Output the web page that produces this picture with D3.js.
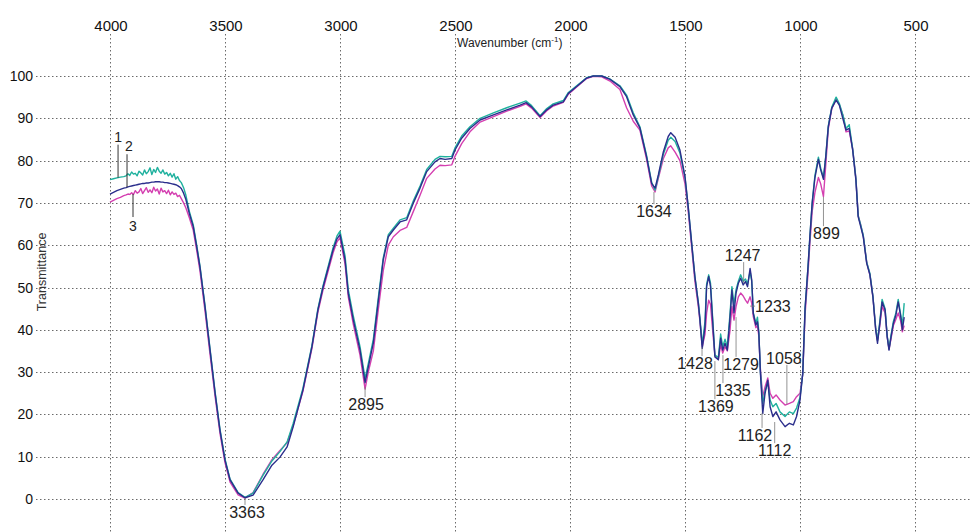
<!DOCTYPE html>
<html>
<head>
<meta charset="utf-8">
<script src="https://cdn.jsdelivr.net/npm/d3@7/dist/d3.min.js"></script>
<style>
body { margin: 0; background: #fff; }
svg { display: block; font-family: Arial, "Liberation Sans", sans-serif; }
</style>
</head>
<body>
<svg id="plot"></svg>
<script>
var width = 971;
var height = 532;

// FTIR spectra, transmittance (%) vs wavenumber (cm-1)
var wavenumbers = [4000, 3985, 3970, 3955, 3940, 3930, 3922, 3914, 3906, 3898, 3890, 3882, 3874, 3866, 3858, 3850, 3842, 3834, 3826, 3818,
    3810, 3802, 3794, 3786, 3778, 3770, 3762, 3754, 3746, 3738, 3730, 3722, 3714, 3706, 3698, 3690, 3680, 3670, 3655,
    3638, 3623, 3609, 3587, 3565, 3543, 3522, 3500, 3478, 3443, 3413, 3378, 3335, 3296, 3261, 3230, 3204, 3161, 3122, 3096, 3074, 3030, 3013, 3000,
    2978, 2964, 2942, 2913, 2891, 2877, 2855, 2833, 2812, 2790, 2768, 2739, 2710, 2681, 2652, 2623, 2587, 2565, 2543, 2514, 2500, 2471, 2435, 2391,
    2333, 2275, 2217, 2191, 2167, 2130, 2101, 2073, 2029, 2007, 1971, 1928, 1899, 1862, 1826, 1783, 1754, 1725, 1696, 1667, 1645, 1630, 1616, 1594,
    1573, 1562, 1543, 1522, 1500, 1486, 1471, 1457, 1442, 1435, 1425, 1413, 1406, 1397, 1389, 1380, 1370, 1355, 1345, 1336, 1326, 1316, 1304, 1296,
    1287, 1278, 1268, 1258, 1247, 1237, 1228, 1217, 1210, 1203, 1192, 1185, 1179, 1172, 1162, 1152, 1140, 1130, 1118, 1104, 1087, 1065, 1046, 1029,
    1015, 1000, 988, 978, 965, 957, 947, 935, 920, 910, 898, 888, 877, 862, 843, 829, 812, 800, 786, 771, 757, 747, 736, 725, 710, 696, 683, 671,
    663, 653, 643, 630, 621, 613, 604, 594, 583, 573, 562, 555, 547];

var series1 = [75.5, 75.7, 75.9, 76.1, 76.2, 76.4, 76.9, 76.5, 77.3, 76.8, 77.0, 76.4, 77.5, 77.1, 76.6, 77.8, 76.9, 77.4, 78.3, 76.7,
    77.9, 77.2, 78.4, 77.5, 77.0, 77.8, 76.8, 77.2, 76.4, 77.0, 76.1, 76.9, 75.6, 76.2, 75.3, 74.8, 73.6, 71.8, 68.0,
    64.8, 60.0, 55.2, 45.8, 35.5, 25.3, 16.6, 9.5, 4.7, 1.5, 0.4, 1.4, 5.6, 9.0, 11.2, 13.5, 17.8, 26.2, 36.3, 45.0, 50.4, 59.4, 62.2, 63.3,
    57.5, 49.5, 43.2, 36.0, 28.5, 32.0, 37.8, 47.8, 57.0, 62.5, 64.0, 66.0, 66.5, 70.5, 74.0, 77.9, 80.3, 81.0, 80.9, 81.0, 83.0, 85.8, 88.0, 90.0,
    91.3, 92.5, 93.6, 94.1, 93.0, 90.6, 92.3, 93.4, 94.2, 96.1, 97.7, 99.6, 100, 100, 99.3, 97.7, 95.5, 91.3, 88.0, 81.2, 74.9, 73.0, 76.2, 81.5,
    84.8, 85.5, 84.5, 81.8, 76.0, 69.0, 60.5, 52.6, 46.5, 42.8, 36.5, 42.0, 50.8, 53.0, 51.0, 43.0, 34.0, 33.5, 39.0, 36.0, 37.8, 36.0, 44.0, 50.2,
    46.0, 49.5, 51.5, 53.0, 51.5, 52.0, 50.8, 53.8, 51.5, 44.0, 41.5, 43.0, 39.5, 30.0, 22.6, 25.5, 27.5, 23.4, 21.8, 22.6, 20.6, 19.5, 20.6, 20.2,
    21.5, 24.0, 29.7, 45.0, 55.0, 62.0, 70.0, 76.5, 80.8, 78.2, 76.0, 81.0, 88.2, 92.6, 95.0, 93.5, 90.5, 87.6, 88.5, 82.8, 75.8, 67.0, 64.8, 62.4, 56.0, 53.3, 48.0, 40.5,
    37.5, 42.0, 47.2, 45.0, 38.6, 35.5, 38.8, 42.0, 44.0, 47.2, 43.5, 41.0, 46.3];

var series2 = [72.1, 72.5, 72.9, 73.2, 73.5, 73.6, 73.8, 73.9, 74.0, 74.1, 74.2, 74.3, 74.4, 74.5, 74.6, 74.6, 74.7, 74.7, 74.8, 74.9,
    74.9, 75.0, 75.0, 75.0, 74.9, 74.9, 74.8, 74.8, 74.7, 74.6, 74.5, 74.4, 74.3, 74.1, 73.8, 73.4, 72.3, 70.8, 67.5,
    64.4, 59.6, 54.9, 45.5, 35.2, 25.0, 16.3, 9.2, 4.5, 1.4, 0.3, 0.9, 4.5, 8.0, 9.9, 12.3, 17.0, 25.8, 36.0, 44.7, 50.0, 58.9, 61.5, 62.5,
    56.5, 48.6, 42.3, 35.2, 27.5, 31.2, 36.9, 47.0, 56.5, 62.0, 63.6, 65.5, 66.0, 70.0, 73.5, 77.4, 79.7, 80.5, 80.3, 80.5, 82.5, 85.3, 87.6, 89.6,
    90.8, 92.0, 93.1, 93.7, 92.7, 90.4, 92.0, 93.1, 93.9, 95.9, 97.5, 99.5, 100, 100, 99.2, 97.5, 95.1, 90.8, 87.7, 80.9, 74.6, 73.5, 76.6, 82.1,
    85.7, 86.6, 85.5, 82.5, 76.2, 69.1, 60.5, 52.6, 46.3, 42.3, 35.6, 40.7, 50.2, 52.6, 50.2, 42.3, 33.6, 32.9, 38.0, 35.2, 36.8, 35.2, 43.1, 49.4,
    44.0, 48.7, 51.0, 52.2, 50.6, 51.4, 50.2, 54.5, 51.8, 43.9, 41.1, 41.9, 39.2, 29.7, 20.2, 25.0, 28.1, 21.8, 19.5, 20.6, 18.7, 17.1, 17.9, 17.5,
    19.5, 23.4, 29.7, 45.0, 55.0, 62.0, 70.0, 76.0, 80.3, 77.8, 75.6, 80.9, 88.0, 92.4, 94.3, 93.1, 89.6, 87.2, 87.6, 82.5, 75.4, 66.7, 64.4, 62.0, 55.7, 53.0, 47.8, 40.0,
    36.8, 41.5, 46.6, 44.7, 38.4, 35.2, 38.4, 41.5, 43.5, 46.6, 43.1, 40.0, 43.0];

var series3 = [70.2, 70.6, 71.0, 71.3, 71.7, 71.9, 72.1, 72.0, 72.4, 72.0, 72.9, 72.3, 72.6, 73.4, 72.2, 72.9, 73.6, 72.5, 73.1, 72.4,
    73.7, 72.8, 73.3, 72.1, 73.5, 72.6, 72.9, 72.2, 73.0, 71.9, 72.6, 72.0, 72.3, 71.5, 71.8, 71.0, 70.0, 68.8, 66.5,
    63.5, 58.8, 54.0, 44.5, 34.2, 24.2, 15.6, 8.6, 4.0, 1.0, 0.2, 1.5, 5.8, 9.3, 11.5, 13.3, 17.3, 25.5, 35.6, 44.2, 49.4, 58.2, 60.8, 61.8,
    55.5, 47.8, 41.3, 34.0, 26.0, 30.0, 35.0, 45.0, 54.0, 60.0, 62.0, 63.5, 64.2, 68.0, 71.8, 75.8, 78.0, 78.9, 78.8, 79.0, 81.0, 84.0, 86.8, 89.1,
    90.4, 91.7, 92.8, 93.4, 92.4, 90.2, 91.8, 92.9, 93.8, 95.7, 97.4, 99.4, 99.9, 99.8, 98.8, 96.8, 92.5, 89.3, 87.2, 80.3, 74.0, 72.6, 75.8, 80.5,
    83.0, 83.5, 82.0, 80.0, 74.5, 68.0, 59.5, 51.5, 45.5, 42.0, 36.0, 39.0, 44.0, 47.0, 46.0, 40.0, 34.0, 33.0, 36.5, 34.5, 36.0, 35.0, 40.0, 45.5,
    42.3, 45.5, 47.8, 48.7, 48.0, 47.0, 46.3, 47.8, 46.3, 43.1, 40.5, 41.0, 38.5, 30.5, 24.2, 26.5, 28.6, 25.0, 23.8, 24.6, 23.4, 22.2, 22.6, 23.0,
    24.2, 25.0, 29.5, 43.5, 53.5, 60.5, 68.0, 72.5, 76.0, 74.5, 71.5, 79.0, 87.5, 92.2, 94.6, 93.2, 90.5, 86.8, 87.0, 82.8, 75.8, 67.0, 64.8, 62.2, 56.0, 53.0, 47.8, 40.3,
    37.5, 41.0, 45.5, 44.0, 38.4, 35.4, 38.0, 41.0, 42.5, 44.0, 42.0, 39.5, 41.0];

var seriesNames = ["1", "2", "3"];
var seriesTagWn = [3965, 3926, 3900];

var xTicks = [4000, 3500, 3000, 2500, 2000, 1500, 1000, 500];
var yTicks = [0, 10, 20, 30, 40, 50, 60, 70, 80, 90, 100];

var peakLabels = ["3363", "2895", "1634", "1428", "1369", "1335", "1279", "1247", "1233", "1162", "1112", "1058", "899"];
var peakWn     = [3413, 2891, 1635, 1426, 1370, 1335, 1278, 1245, 1217, 1165, 1110, 1057, 898];
var peakFrom   = [0.2, 26.5, 72.6, 35.9, 32.6, 34.0, 43.0, 51.0, 45.6, 20.4, 18.2, 22.4, 71.4];
var peakTo     = [-1.4, 24.1, 69.7, 33.8, 23.6, 27.4, 33.6, 56.0, 45.6, 16.8, 13.2, 31.7, 64.5];

// label layout
var peakPlace = ["below", "below", "below", "below", "below", "below", "below", "above", "right", "below", "below", "above", "below"];
var peakDx = [2, 1, 0, -7, 1, 10, 5, -1, 0, -7, 0, -3, 3];
var colors = ["#1fb19e", "#2b2e8c", "#d43fb0"];

var svg = d3.select("#plot")
    .attr("width", width)
    .attr("height", height);

var xScale = d3.scaleLinear()
    .domain([4000, 500])
    .range([110, 915]);
var yScale = d3.scaleLinear()
    .domain([0, 100])
    .range([499, 76]);

// grid
svg.append("g")
    .attr("class", "grid-x")
    .selectAll("line")
    .data(xTicks)
    .enter()
    .append("line")
    .attr("x1", function (d) { return xScale(d) + 0.5; })
    .attr("x2", function (d) { return xScale(d) + 0.5; })
    .attr("y1", 34)
    .attr("y2", height)
    .attr("stroke", "#6a6a6a")
    .attr("stroke-dasharray", "1.5,2.5");

svg.append("g")
    .attr("class", "grid-y")
    .selectAll("line")
    .data(yTicks)
    .enter()
    .append("line")
    .attr("x1", 36)
    .attr("x2", width)
    .attr("y1", function (d) { return Math.round(yScale(d)) + 0.5; })
    .attr("y2", function (d) { return Math.round(yScale(d)) + 0.5; })
    .attr("stroke", "#6a6a6a")
    .attr("stroke-dasharray", "1.5,2.5");

// tick labels
svg.append("g")
    .selectAll("text")
    .data(xTicks)
    .enter()
    .append("text")
    .attr("x", function (d) { return xScale(d) + 1; })
    .attr("y", 31)
    .attr("text-anchor", "middle")
    .attr("font-size", 15)
    .attr("fill", "#111")
    .text(function (d) { return d; });

svg.append("g")
    .selectAll("text")
    .data(yTicks)
    .enter()
    .append("text")
    .attr("x", 33)
    .attr("y", function (d) { return yScale(d) + 5; })
    .attr("text-anchor", "end")
    .attr("font-size", 14)
    .attr("fill", "#111")
    .text(function (d) { return d; });

// axis titles
var xTitle = svg.append("text")
    .attr("x", 457)
    .attr("y", 47)
    .attr("font-size", 12)
    .attr("fill", "#222");
xTitle.append("tspan").text("Wavenumber (cm");
xTitle.append("tspan").attr("font-size", 8).attr("dy", -5).text("-1");
xTitle.append("tspan").attr("dy", 5).text(")");

svg.append("text")
    .attr("transform", "translate(46,272) rotate(-90)")
    .attr("text-anchor", "middle")
    .attr("font-size", 12.5)
    .attr("fill", "#333")
    .text("Transmittance");

// spectra
var allSeries = [series1, series2, series3];
var drawOrder = [2, 0, 1];

var line = d3.line()
    .x(function (d, i) { return xScale(wavenumbers[i]); })
    .y(function (d) { return yScale(d); });

svg.append("g")
    .attr("class", "spectra")
    .selectAll("path")
    .data(drawOrder)
    .enter()
    .append("path")
    .attr("d", function (k) { return line(allSeries[k]); })
    .attr("fill", "none")
    .attr("stroke", function (k) { return colors[k]; })
    .attr("stroke-width", 1.4)
    .attr("stroke-linejoin", "round");

function valueAt(values, wn) {
    for (var i = 0; i < wavenumbers.length - 1; i++) {
        if (wavenumbers[i] >= wn && wavenumbers[i + 1] <= wn) {
            var t = (wavenumbers[i] - wn) / (wavenumbers[i] - wavenumbers[i + 1]);
            return values[i] * (1 - t) + values[i + 1] * t;
        }
    }
    return values[values.length - 1];
}

// series tags 1, 2, 3
var tagLen = [33, 33, 23];
var tagUp = [true, true, false];
var tags = svg.append("g").attr("class", "tags");
seriesNames.forEach(function (name, k) {
    var x = xScale(seriesTagWn[k]);
    var yc = yScale(valueAt(allSeries[k], seriesTagWn[k]));
    var yEnd = tagUp[k] ? yc - tagLen[k] : yc + tagLen[k];
    tags.append("line")
        .attr("x1", x).attr("x2", x)
        .attr("y1", yc).attr("y2", yEnd)
        .attr("stroke", "#333")
        .attr("stroke-width", 1);
    tags.append("text")
        .attr("x", x + (k == 1 ? 2 : 0))
        .attr("y", tagUp[k] ? yEnd - 3 : yEnd + 14)
        .attr("text-anchor", "middle")
        .attr("font-size", 14)
        .attr("fill", "#222")
        .text(name);
});

// peak annotations
var peaks = svg.append("g").attr("class", "peaks");
peakLabels.forEach(function (label, i) {
    var x = xScale(peakWn[i]);
    var y1 = yScale(peakFrom[i]);
    var y2 = yScale(peakTo[i]);
    if (peakPlace[i] == "right") {
        peaks.append("line")
            .attr("x1", x).attr("x2", x + 5)
            .attr("y1", y1).attr("y2", y1)
            .attr("stroke", "#777").attr("stroke-width", 0.8);
        peaks.append("text")
            .attr("x", x + 5)
            .attr("y", y1 + 6)
            .attr("font-size", 16)
            .attr("fill", "#222")
            .text(label);
        return;
    }
    peaks.append("line")
        .attr("x1", x).attr("x2", x)
        .attr("y1", y1).attr("y2", y2)
        .attr("stroke", "#777").attr("stroke-width", 0.8);
    peaks.append("text")
        .attr("x", x + peakDx[i])
        .attr("y", peakPlace[i] == "below" ? y2 + 13 : y2 - 1)
        .attr("text-anchor", "middle")
        .attr("font-size", 16)
        .attr("fill", "#222")
        .text(label);
});
</script>
</body>
</html>
